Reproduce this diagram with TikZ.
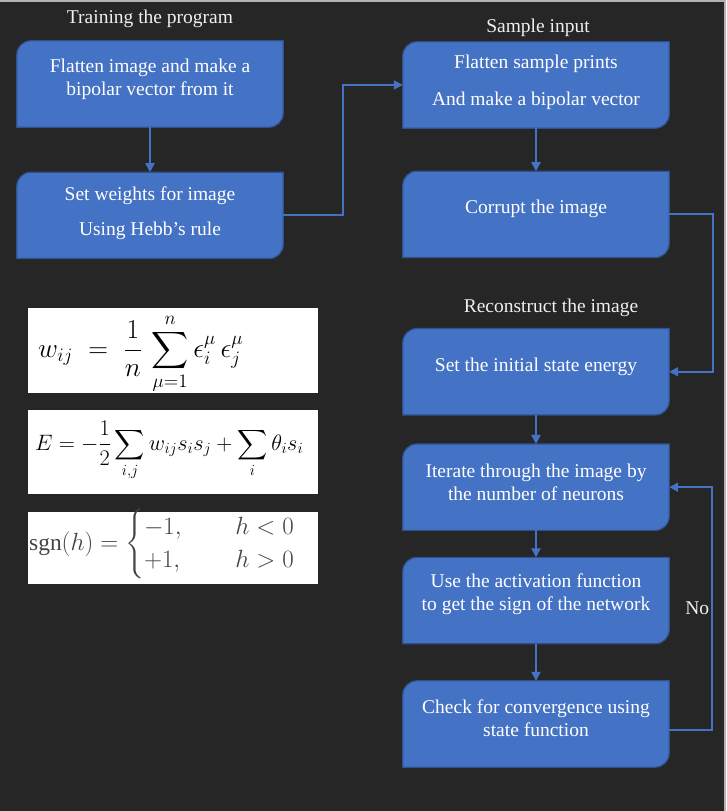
\documentclass[tikz,border=0pt]{standalone}
\usepackage{fontspec}
\setmainfont{Liberation Serif}
\usepackage{amsmath, amssymb, graphicx}
\usetikzlibrary{arrows.meta, positioning}

\definecolor{bgdark}{HTML}{262626}
\definecolor{boxblue}{HTML}{4472C4}
\definecolor{boxedge}{HTML}{2F528F}
\definecolor{headgray}{HTML}{EFEFEF}
\definecolor{mathgray}{HTML}{444444}

\begin{document}
\begin{tikzpicture}[x=1pt, y=1pt]
			\tikzset {>={Triangle[length=9pt, width=9pt]}, every node/.style={font=\fontsize{19.5}{23}\selectfont},
				flow/.style={minimum width=266pt, minimum height=86pt, inner sep=0pt},
				flowtext/.style={text=white, align=center, inner sep=0pt},
				heading/.style={text=headgray, inner sep=2pt},
				formula/.style={fill=white, minimum width=290pt, inner sep=0pt},
				link/.style={->, draw=boxblue, line width=2pt} }
			
			\fill[bgdark] (0,0) rectangle (726,811);
			\useasboundingbox (0,0) rectangle (726,811);
			\draw[gray!60, line width=2pt] (0,810) -- (725,810) -- (725,0);
			
			% left column
			\node[heading] (train) at (150,792) {Training the program};
			\node[flow] (flat) at (150,727) {};
			\node[flow, below=45pt of flat] (hebb) {};
			
			% right column
			\node[heading] (samplein) at (538,783) {Sample input};
			\node[flow] (sample) at (536,726) {};
			\node[flow, below=43pt of sample] (corrupt) {};
			\node[flow, below=71pt of corrupt] (energy) {};
			\node[heading] (recon) at (551,503) {Reconstruct the image};
			\node[flow, below=29pt of energy] (iterate) {};
			\node[flow, below=27pt of iterate] (activate) {};
			\node[flow, below=37pt of activate] (converge) {};
			
			\foreach \n in {flat, hebb, sample, corrupt, energy, iterate, activate, converge}
				\draw[boxedge, line width=1.2pt, fill=boxblue]
					(\n.south west) -- ([yshift=-14pt]\n.north west) arc[start angle=180, end angle=90, radius=14pt]
					-- (\n.north east) -- ([yshift=14pt]\n.south east) arc[start angle=0, end angle=-90, radius=14pt] -- cycle;
			
			\node[flowtext] (flat-t) at ([yshift=5pt]flat.center) {Flatten image and make a\\bipolar vector from it};
			\node[flowtext] (hebb-t) at ([yshift=2.5pt]hebb.center) {Set weights for image\\[12pt]Using Hebb’s rule};
			\node[flowtext] (sample-t) at ([yshift=2.5pt]sample.center) {Flatten sample prints\\[14pt]And make a bipolar vector};
			\node[flowtext] (corrupt-t) at ([yshift=6pt]corrupt.center) {Corrupt the image};
			\node[flowtext] (energy-t) at ([yshift=5pt]energy.center) {Set the initial state energy};
			\node[flowtext] (iterate-t) at ([yshift=5pt]iterate.center) {Iterate through the image by\\the number of neurons};
			\node[flowtext] (activate-t) at ([yshift=6pt]activate.center) {Use the activation function\\to get the sign of the network};
			\node[flowtext] (converge-t) at ([yshift=6pt]converge.center) {Check for convergence using\\state function};
			
			% formulas
			\node[formula, minimum height=85pt] (hebbbox) at (173,460.5) {};
			\node[formula, minimum height=84pt] (energybox) at (173,359) {};
			\node[formula, minimum height=72pt] (signbox) at (173,263) {};
			\node[anchor=west, inner sep=0pt] (hebbeq) at (38,457)
				{\resizebox{205pt}{!}{$\displaystyle w_{ij} \;=\; \frac{1}{n}\,\sum_{\mu=1}^{n} \epsilon_i^{\mu}\,\epsilon_j^{\mu}$}};
			\node[anchor=west, inner sep=0pt] (energyeq) at (35,360.5)
				{\resizebox{268pt}{!}{$\displaystyle E = -\frac{1}{2}\sum_{i,j} w_{ij}s_is_j + \sum_{i}\theta_i s_i$}};
			\node[anchor=west, inner sep=0pt, text=mathgray] (signeq) at (29,267)
				{\resizebox{266pt}{!}{$\mathrm{sgn}(h) = \begin{cases} -1, & \quad\; h<0\\ +1, & \quad\; h>0 \end{cases}$}};
			
			% connectors
			\draw[link] (flat) -- (hebb);
			\draw[link] (hebb.east) -- ++(60,0) |- (sample.west);
			\draw[link] (sample) -- (corrupt);
			\draw[link] (corrupt.east) -- ++(44,0) |- (energy.east);
			\draw[link] (energy) -- (iterate);
			\draw[link] (iterate) -- (activate);
			\draw[link] (activate) -- (converge);
			\draw[link] ([yshift=-6pt]converge.east) -- ++(43,0) |- node[pos=0.25, left, heading] (no) {No} (iterate.east);
		\end{tikzpicture}
\end{document}
